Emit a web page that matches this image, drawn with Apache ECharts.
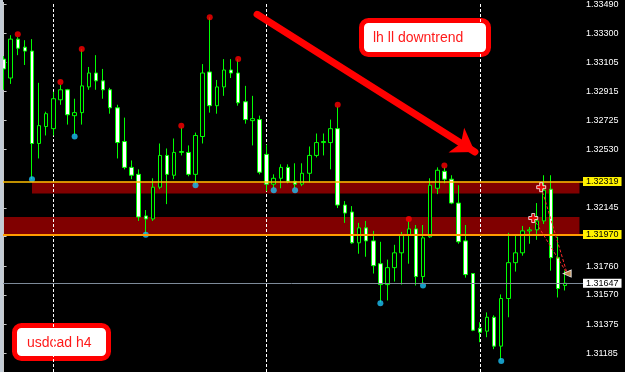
<!DOCTYPE html>
<html><head><meta charset="utf-8">
<script src="https://cdn.jsdelivr.net/npm/echarts@6/dist/echarts.min.js"></script>
<style>html,body{margin:0;padding:0;background:#000}#c{width:625px;height:372px}</style>
</head><body><div id="c"></div>
<script>
// H4 bars (no time labels visible in the reference)
const categories = Array.from({length: 82}, (_, i) => 'bar' + (i + 1));

const opens  = [1.33129,1.33004,1.33261,1.33208,1.33182,1.32571,1.32683,1.32669,1.32860,1.32926,
                1.32755,1.32775,1.32945,1.33037,1.32985,1.32926,1.32807,1.32584,1.32413,1.32367,
                1.32092,1.32072,1.32282,1.32492,1.32361,1.32512,1.32512,1.32367,1.32617,1.33044,
                1.32821,1.32945,1.33057,1.33037,1.32847,1.32722,1.32729,1.32499,1.32302,1.32341,
                1.32413,1.32321,1.32302,1.32374,1.32492,1.32577,1.32577,1.32669,1.32164,1.32118,
                1.31914,1.32013,1.31927,1.31776,1.31638,1.31750,1.31848,1.31967,1.32006,1.31691,
                1.31954,1.32275,1.32387,1.32335,1.32177,1.31927,1.31711,1.31349,1.31330,1.31422,
                1.31231,1.31546,1.31783,1.31848,1.31993,1.32000,1.32059,1.32269,1.31816,1.31632];
const closes = [1.33064,1.33261,1.33201,1.33182,1.32571,1.32689,1.32768,1.32867,1.32926,1.32761,
                1.32775,1.32952,1.33037,1.32985,1.32926,1.32807,1.32577,1.32413,1.32361,1.32085,
                1.32072,1.32282,1.32492,1.32367,1.32512,1.32518,1.32367,1.32624,1.33037,1.32821,
                1.32945,1.33057,1.33037,1.32840,1.32729,1.32735,1.32381,1.32302,1.32341,1.32413,
                1.32321,1.32302,1.32374,1.32492,1.32577,1.32584,1.32669,1.32164,1.32111,1.31914,
                1.32013,1.31927,1.31763,1.31638,1.31750,1.31848,1.31967,1.32006,1.31691,1.31947,
                1.32295,1.32394,1.32335,1.32177,1.31921,1.31704,1.31336,1.31323,1.31422,1.31231,
                1.31546,1.31783,1.31848,1.31993,1.32000,1.32059,1.32262,1.31816,1.31612,1.31647];
const lows   = [1.32926,1.32965,1.33155,1.33090,1.32335,1.32472,1.32624,1.32624,1.32827,1.32696,
                1.32630,1.32696,1.32926,1.32926,1.32867,1.32768,1.32472,1.32400,1.32335,1.32059,
                1.31973,1.32059,1.32269,1.32170,1.32335,1.32492,1.32354,1.32302,1.32571,1.32775,
                1.32768,1.32886,1.33004,1.32821,1.32702,1.32558,1.32367,1.32256,1.32275,1.32275,
                1.32308,1.32275,1.32289,1.32315,1.32479,1.32492,1.32400,1.32144,1.32046,1.31908,
                1.31842,1.31822,1.31711,1.31520,1.31533,1.31658,1.31638,1.31776,1.31632,1.31645,
                1.31947,1.32236,1.32308,1.32170,1.31908,1.31684,1.31330,1.31257,1.31290,1.31211,
                1.31139,1.31422,1.31724,1.31829,1.31908,1.31934,1.32039,1.31730,1.31553,1.31599];
const highs  = [1.33149,1.33287,1.33274,1.33254,1.33261,1.32972,1.32781,1.32913,1.32958,1.32932,
                1.32867,1.33195,1.33077,1.33155,1.33064,1.32939,1.32827,1.32742,1.32459,1.32400,
                1.32131,1.32341,1.32571,1.32538,1.32604,1.32676,1.32558,1.32643,1.33096,1.33405,
                1.32991,1.33129,1.33129,1.33129,1.32952,1.32886,1.32755,1.32564,1.32367,1.32433,
                1.32433,1.32440,1.32440,1.32551,1.32637,1.32637,1.32729,1.32814,1.32190,1.32157,
                1.32046,1.32059,1.31993,1.31921,1.31803,1.31901,1.31986,1.32059,1.32032,1.32032,
                1.32341,1.32413,1.32413,1.32361,1.32295,1.32032,1.31711,1.31389,1.31454,1.31435,
                1.31573,1.31980,1.31960,1.32026,1.32019,1.32177,1.32361,1.32361,1.31954,1.31730];

// fractals
const fractalUpIdx     = [2, 8, 11, 25, 29, 33, 47, 57, 62];
const fractalUpPrice   = [1.33293,1.32978,1.33195,1.32689,1.33405,1.33129,1.32827,1.32072,1.32426];
const fractalDownIdx   = [4, 10, 20, 27, 38, 41, 53, 59, 70];
const fractalDownPrice = [1.32335,1.32617,1.31967,1.32295,1.32262,1.32262,1.31514,1.31632,1.31133];

// price axis labels
const yTickLabels = [1.33490,1.33300,1.33105,1.32915,1.32725,1.32530,1.32145,1.31955,1.31760,1.31570,1.31375,1.31185];

// horizontal levels and zones
const levelUpper = 1.32319, levelLower = 1.31970, bidPrice = 1.31647;
const zoneUpper = [1.32319, 1.32240]; const zoneUpperStart = 4;
const zoneLower = [1.32085, 1.31970]; const zoneLowerStart = 0;
const separatorIdx = [7, 37, 67];

// annotation arrow (bar position, price)
const arrowStart = [35.66, 1.33425];
const arrowEnd   = [66.3, 1.32515];
// trade history markers
const tradeOpen1 = [75.62, 1.32282];
const tradeOpen2 = [74.5, 1.32078];
const tradeClose = [79.27, 1.31711];

const ohlc = opens.map((o, i) => [o, closes[i], lows[i], highs[i]]);
const lastCat = categories.length - 1;
const axisFont = "'Liberation Sans', Arial, sans-serif";

function levelLabel(txt, bg) {
  return {show: true, position: 'end', distance: 0, formatter: txt, backgroundColor: bg,
          color: '#000', fontSize: 9, lineHeight: 9, padding: [0, 3, 0, 3], fontFamily: axisFont};
}

const chart = echarts.init(document.getElementById('c'), null, {renderer: 'canvas'});
chart.setOption({
  animation: false,
  backgroundColor: '#000',
  grid: {left: 0, top: 0, width: 583, height: 372, containLabel: false},
  xAxis: [
    {type: 'category', data: categories, boundaryGap: true, show: false},
    {type: 'value', min: -0.5, max: 81.5, show: false}
  ],
  yAxis: {
    type: 'value', position: 'right', offset: -3, min: 1.31060, max: 1.33504, scale: true,
    axisLine: {show: true, lineStyle: {color: '#c8c8c8', width: 1}},
    axisTick: {show: true, length: 3, lineStyle: {color: '#c8c8c8'}, customValues: yTickLabels},
    axisLabel: {show: true, color: '#ffffff', fontSize: 9, margin: 6, fontFamily: axisFont,
                customValues: yTickLabels, formatter: v => v.toFixed(5)},
    splitLine: {show: false}
  },
  graphic: [
    {type: 'rect', left: 0, top: 0, shape: {width: 3, height: 372}, style: {fill: '#c3ccd6'}, z: 50},
    {type: 'group', z: 100, children: [
      {type: 'rect', shape: {x: 361.5, y: 20.5, width: 127, height: 34, r: 7},
       style: {fill: '#ffffff', stroke: '#ff0000', lineWidth: 5}},
      {type: 'text', x: 373, y: 38, style: {text: 'lh ll downtrend', fill: '#ff1a1a',
       font: '14px "Liberation Sans", Arial, sans-serif', verticalAlign: 'middle'}}
    ]},
    {type: 'group', z: 100, children: [
      {type: 'rect', shape: {x: 14.5, y: 325.5, width: 94, height: 33, r: 7},
       style: {fill: '#ffffff', stroke: '#ff0000', lineWidth: 5}},
      {type: 'text', x: 27, y: 343, style: {text: 'usdcad h4', fill: '#ff1a1a',
       font: '14px "Liberation Sans", Arial, sans-serif', verticalAlign: 'middle'}}
    ]}
  ],
  series: [
    {
      type: 'candlestick', name: 'USDCAD,H4', data: ohlc, barWidth: 4, z: 2,
      itemStyle: {color: '#000000', color0: '#ffffff', borderColor: '#00ff00', borderColor0: '#00ff00', borderWidth: 1},
      markArea: {
        silent: true, z: 0,
        itemStyle: {color: '#800000', opacity: 1},
        data: [
          [{xAxis: categories[zoneUpperStart], yAxis: zoneUpper[0]}, {xAxis: categories[lastCat], yAxis: zoneUpper[1]}],
          [{xAxis: categories[zoneLowerStart], yAxis: zoneLower[0]}, {xAxis: categories[lastCat], yAxis: zoneLower[1]}]
        ]
      }
    },
    {
      type: 'scatter', name: 'fractal up', symbol: 'circle', symbolSize: 6, z: 3,
      data: fractalUpIdx.map((i, k) => [categories[i], fractalUpPrice[k]]),
      itemStyle: {color: '#ff0000'},
      markLine: {
        silent: true, symbol: 'none', z: 1, label: {show: false},
        lineStyle: {color: '#ffffff', width: 1, type: [3, 2]},
        data: separatorIdx.map(i => ({xAxis: categories[i]}))
      }
    },
    {
      type: 'scatter', name: 'fractal down', symbol: 'circle', symbolSize: 6, z: 3,
      data: fractalDownIdx.map((i, k) => [categories[i], fractalDownPrice[k]]),
      itemStyle: {color: '#1cc0f5'},
      markLine: {
        silent: true, symbol: 'none', z: 5, precision: 5,
        data: [
          {yAxis: levelUpper, lineStyle: {color: '#ffbf00', width: 1.6, type: 'solid', opacity: 1}, label: levelLabel(levelUpper.toFixed(5), '#fff200')},
          {yAxis: levelLower, lineStyle: {color: '#ff9c00', width: 2, type: 'solid', opacity: 1}, label: levelLabel(levelLower.toFixed(5), '#fff200')},
          {yAxis: bidPrice, lineStyle: {color: '#7d8a99', width: 1, type: 'solid', opacity: 1}, label: levelLabel(bidPrice.toFixed(5), '#ffffff')}
        ]
      }
    },
    {
      type: 'line', xAxisIndex: 1, name: 'trade1', data: [tradeOpen1, tradeClose], symbol: 'none', z: 6,
      lineStyle: {color: '#ff2a2a', width: 1, type: [3, 2]}
    },
    {
      type: 'line', xAxisIndex: 1, name: 'trade2', data: [tradeOpen2, tradeClose], symbol: 'none', z: 6,
      lineStyle: {color: '#ff2a2a', width: 1, type: [3, 2]}
    },
    {
      type: 'scatter', xAxisIndex: 1, name: 'trade open', z: 7,
      symbol: 'path://M3,0H6V3H9V6H6V9H3V6H0V3H3Z', symbolSize: 9,
      data: [tradeOpen1, tradeOpen2],
      itemStyle: {color: '#ff0000', borderColor: '#ffffff', borderWidth: 1}
    },
    {
      type: 'scatter', xAxisIndex: 1, name: 'trade close', z: 7,
      symbol: 'triangle', symbolRotate: 90, symbolSize: [7, 8],
      data: [tradeClose],
      itemStyle: {color: '#eaa860', borderColor: '#ffffff', borderWidth: 1}
    },
    {
      type: 'line', xAxisIndex: 1, name: 'arrow', data: [arrowStart, arrowEnd], symbol: 'none', z: 8,
      lineStyle: {opacity: 0},
      markLine: {
        silent: true, z: 8, symbol: ['none', 'arrow'], symbolSize: 22, precision: 5,
        label: {show: false},
        lineStyle: {color: '#ff0000', width: 7, type: 'solid', cap: 'round'},
        data: [[{coord: arrowStart}, {coord: arrowEnd}]]
      }
    }
  ]
});
</script>
</body></html>
